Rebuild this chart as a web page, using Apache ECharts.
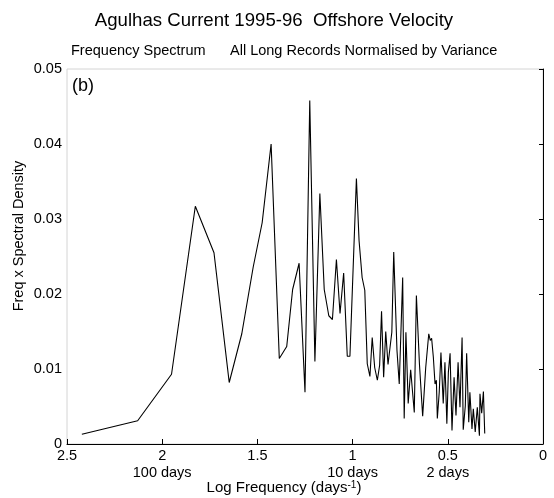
<!DOCTYPE html>
<html>
<head>
<meta charset="utf-8">
<script src="https://cdn.jsdelivr.net/npm/echarts@6/dist/echarts.min.js"></script>
<style>html,body{margin:0;padding:0;background:#fff;}#c{width:554px;height:498px;}</style>
</head>
<body>
<div id="c"></div>
<script>
// Log frequency (x, axis runs 2.5 -> 0) and Freq x Spectral Density (y)
const logFreq = [2.422, 2.129, 1.951, 1.826, 1.728, 1.648, 1.582, 1.522, 1.475, 1.428,
  1.385, 1.346, 1.315, 1.281, 1.250, 1.225, 1.198, 1.172, 1.149, 1.125,
  1.106, 1.085, 1.066, 1.047, 1.028, 1.014, 0.980, 0.966, 0.950, 0.936,
  0.923, 0.909, 0.897, 0.884, 0.870, 0.858, 0.848, 0.837, 0.826, 0.814,
  0.794, 0.784, 0.767, 0.755, 0.737, 0.729, 0.720, 0.708, 0.695, 0.676,
  0.665, 0.649, 0.632, 0.616, 0.600, 0.592, 0.585, 0.576, 0.567, 0.560,
  0.555, 0.545, 0.536, 0.524, 0.515, 0.505, 0.497, 0.488, 0.478, 0.467,
  0.457, 0.446, 0.436, 0.425, 0.419, 0.408, 0.401, 0.390, 0.384, 0.373,
  0.366, 0.356, 0.345, 0.334, 0.331, 0.322, 0.313, 0.306];
const specDensity = [0.0013, 0.0031, 0.0093, 0.0317, 0.0255, 0.0082, 0.0147, 0.0236, 0.0295, 0.0400,
  0.0114, 0.0130, 0.0206, 0.0241, 0.0069, 0.0458, 0.0110, 0.0334, 0.0206, 0.0171,
  0.0166, 0.0246, 0.0174, 0.0228, 0.0117, 0.0117, 0.0354, 0.0271, 0.0222, 0.0205,
  0.0107, 0.0090, 0.0142, 0.0102, 0.0085, 0.0105, 0.0177, 0.0089, 0.0150, 0.0106,
  0.0149, 0.0256, 0.0125, 0.0080, 0.0222, 0.0034, 0.0149, 0.0054, 0.0099, 0.0042,
  0.0198, 0.0107, 0.0037, 0.0102, 0.0147, 0.0138, 0.0141, 0.0116, 0.0080, 0.0085,
  0.0034, 0.0069, 0.0122, 0.0054, 0.0109, 0.0027, 0.0096, 0.0121, 0.0018, 0.0089,
  0.0038, 0.0109, 0.0049, 0.0142, 0.0019, 0.0051, 0.0121, 0.0029, 0.0069, 0.0020,
  0.0047, 0.0016, 0.0049, 0.0011, 0.0067, 0.0041, 0.0070, 0.0014];
const xTickValues = [2.5, 2, 1.5, 1, 0.5, 0];
const xTickLabels = ['2.5', '2', '1.5', '1', '0.5', '0'];
const periodTickValues = [2, 1, 0.5];
const periodTickLabels = ['100 days', '10 days', '2 days'];
const yTickValues = [0, 0.01, 0.02, 0.03, 0.04, 0.05];
const yTickLabels = ['0', '0.01', '0.02', '0.03', '0.04', '0.05'];

const FONT = '"Liberation Sans", Arial, Helvetica, sans-serif';
const chart = echarts.init(document.getElementById('c'), null, {renderer: 'canvas'});
const seriesData = logFreq.map((x, i) => [x, specDensity[i]]);

function near(a, b) { return Math.abs(a - b) < 1e-6; }

chart.setOption({
  animation: false,
  backgroundColor: '#fff',
  grid: {left: 67, right: 11, top: 69, bottom: 54, show: true, borderColor: '#d4d4d4', borderWidth: 1},
  xAxis: {
    type: 'value', inverse: true, min: 0, max: 2.5, interval: 0.5,
    axisLine: {lineStyle: {color: '#000', width: 1}},
    axisTick: {inside: true, length: 5, lineStyle: {color: '#000'}},
    splitLine: {show: false},
    axisLabel: {
      fontFamily: FONT, fontSize: 14.5, color: '#000', margin: 3, lineHeight: 17,
      formatter: function (v) {
        let s = '';
        xTickValues.forEach((t, i) => { if (near(t, v)) s = xTickLabels[i]; });
        periodTickValues.forEach((t, i) => { if (near(t, v)) s += '\n' + periodTickLabels[i]; });
        return s;
      }
    }
  },
  yAxis: {
    type: 'value', min: 0, max: 0.05, interval: 0.01,
    axisLine: {show: true, lineStyle: {color: '#000', width: 1}},
    axisTick: {show: true, inside: false, length: 4, lineStyle: {color: '#000'}},
    splitLine: {show: false},
    axisLabel: {
      fontFamily: FONT, fontSize: 14.5, color: '#000', margin: 5,
      formatter: function (v) {
        let s = '';
        yTickValues.forEach((t, i) => { if (near(t, v)) s = yTickLabels[i]; });
        return s;
      }
    }
  },
  graphic: [
    {type: 'text', x: 274, y: 21, style: {text: 'Agulhas Current 1995-96  Offshore Velocity',
      fontFamily: FONT, fontSize: 18.6, fill: '#000', align: 'center', verticalAlign: 'middle'}},
    {type: 'text', x: 71, y: 51, style: {text: 'Frequency Spectrum',
      fontFamily: FONT, fontSize: 14.5, fill: '#000', align: 'left', verticalAlign: 'middle'}},
    {type: 'text', x: 230, y: 51, style: {text: 'All Long Records Normalised by Variance',
      fontFamily: FONT, fontSize: 14.5, fill: '#000', align: 'left', verticalAlign: 'middle'}},
    {type: 'text', x: 72, y: 86, style: {text: '(b)',
      fontFamily: FONT, fontSize: 18, fill: '#000', align: 'left', verticalAlign: 'middle'}},
    {type: 'text', x: 19, y: 236, rotation: Math.PI / 2, style: {text: 'Freq x Spectral Density',
      fontFamily: FONT, fontSize: 14.5, fill: '#000', align: 'center', verticalAlign: 'middle'}},
    {type: 'text', x: 284, y: 488, style: {
      text: '{a|Log Frequency (days}{s|-1}{a|)}', align: 'center', verticalAlign: 'middle',
      rich: {
        a: {fontFamily: FONT, fontSize: 15, fill: '#000', color: '#000'},
        s: {fontFamily: FONT, fontSize: 10, fill: '#000', color: '#000', verticalAlign: 'top', padding: [0, 0, 6, 0]}
      }}}
  ],
  series: [{
    type: 'line', data: seriesData, showSymbol: false, symbol: 'none',
    lineStyle: {color: '#000', width: 1.1}, clip: true
  }]
});
</script>
</body>
</html>
